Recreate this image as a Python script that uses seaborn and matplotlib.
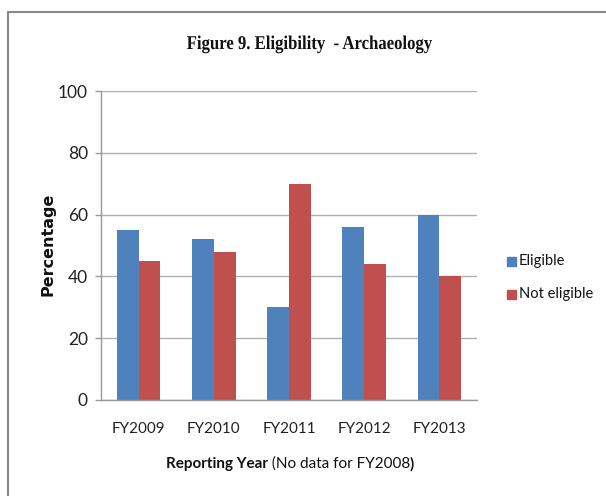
import pandas as pd
import seaborn as sns
import matplotlib.pyplot as plt
from matplotlib.lines import Line2D
from matplotlib.textpath import TextPath
from matplotlib.patches import PathPatch
from matplotlib.font_manager import FontProperties
from matplotlib.transforms import Affine2D

years = ["FY2009", "FY2010", "FY2011", "FY2012", "FY2013"]
eligible = [55, 52, 30, 56, 60]
not_eligible = [45, 48, 70, 44, 40]
series_names = ["Eligible", "Not eligible"]
colors = ["#4F81BD", "#C0504D"]

df = pd.DataFrame({
    "year": years * 2,
    "pct": eligible + not_eligible,
    "group": [series_names[0]] * len(years) + [series_names[1]] * len(years),
})

sns.set_style("white")
plt.rcParams['font.family'] = ['Lato', 'DejaVu Sans']

W, H = 606, 496
fig = plt.figure(figsize=(W / 100, H / 100), dpi=100)
ax = fig.add_axes([101 / W, 1 - 400 / H, 376 / W, 309 / H])

sns.barplot(data=df, x="year", y="pct", hue="group", palette=colors,
            width=0.58, gap=0, ax=ax, legend=False, saturation=1, linewidth=0)

ax.set_ylim(0, 100)
ax.set_xlim(-0.5, 4.5)
ax.set_yticks(range(0, 101, 20))
ax.yaxis.grid(True, color="#b0b0b0", linewidth=1)
ax.set_axisbelow(True)
for s in ["top", "right"]:
    ax.spines[s].set_visible(False)
for s in ["left", "bottom"]:
    ax.spines[s].set_color("#999999")
    ax.spines[s].set_linewidth(1)

ax.set_xticks(range(len(years)))
ax.set_xticklabels(years)
ax.set_xticks([i - 0.5 for i in range(len(years) + 1)], minor=True)
ax.tick_params(axis="x", which="major", length=0, labelsize=11, pad=16, labelcolor="#222222")
ax.tick_params(axis="x", which="minor", length=5.5, color="#999999", width=1, direction="out")
ax.tick_params(axis="y", length=4.5, color="#999999", width=1, labelsize=12.5, pad=5,
               direction="out", left=True, labelcolor="#222222")

ax.set_xlabel("")
ax.set_ylabel("")
fig.text(48 / W, 1 - 244 / H, "Percentage", rotation=90, ha="center", va="center",
         fontsize=11.5, fontweight="bold", family="DejaVu Sans", color="#111111")

# title: Times-like bold, squeezed horizontally like the original
title = "Figure 9. Eligibility  - Archaeology"
tp = TextPath((0, 0), title, size=19.5,
              prop=FontProperties(family="Liberation Serif", weight="bold"))
bb = tp.get_extents()
sx = 245 / bb.width
trans = Affine2D().translate(-bb.x0, 0).scale(sx, 1).translate(187, H - 49)
fig.add_artist(PathPatch(tp, transform=trans, facecolor="#111111", edgecolor="none"))

# x axis label with mixed weights
fig.canvas.draw()
renderer = fig.canvas.get_renderer()
parts = [("Reporting Year", "bold"), (" (No data for FY2008", "normal"), (")", "bold")]
texts = []
for s, w in parts:
    texts.append(fig.text(0, 1 - 464 / H, s, fontsize=11, fontweight=w,
                          va="center", ha="left", color="#111111"))
widths = [t.get_window_extent(renderer).width for t in texts]
x0 = 290 - sum(widths) / 2
for t, w in zip(texts, widths):
    t.set_x(x0 / W)
    x0 += w

# legend
for i, (name, c) in enumerate(zip(series_names, colors)):
    yc = 261 + 33 * i
    fig.patches.append(plt.Rectangle((507 / W, 1 - (yc + 4.5) / H), 9 / W, 9 / H,
                                     transform=fig.transFigure, color=c, figure=fig))
    fig.text(519 / W, 1 - yc / H, name, fontsize=10.5, va="center", ha="left", color="#111111")

# outer frame (top and left edges visible)
fig.add_artist(Line2D([8 / W, 8 / W], [0, 1 - 12 / H], color="#888888", linewidth=1.5,
                      transform=fig.transFigure))
fig.add_artist(Line2D([8 / W, 1], [1 - 12 / H, 1 - 12 / H], color="#888888", linewidth=1.5,
                      transform=fig.transFigure))

fig.savefig("out.png", dpi=100)
